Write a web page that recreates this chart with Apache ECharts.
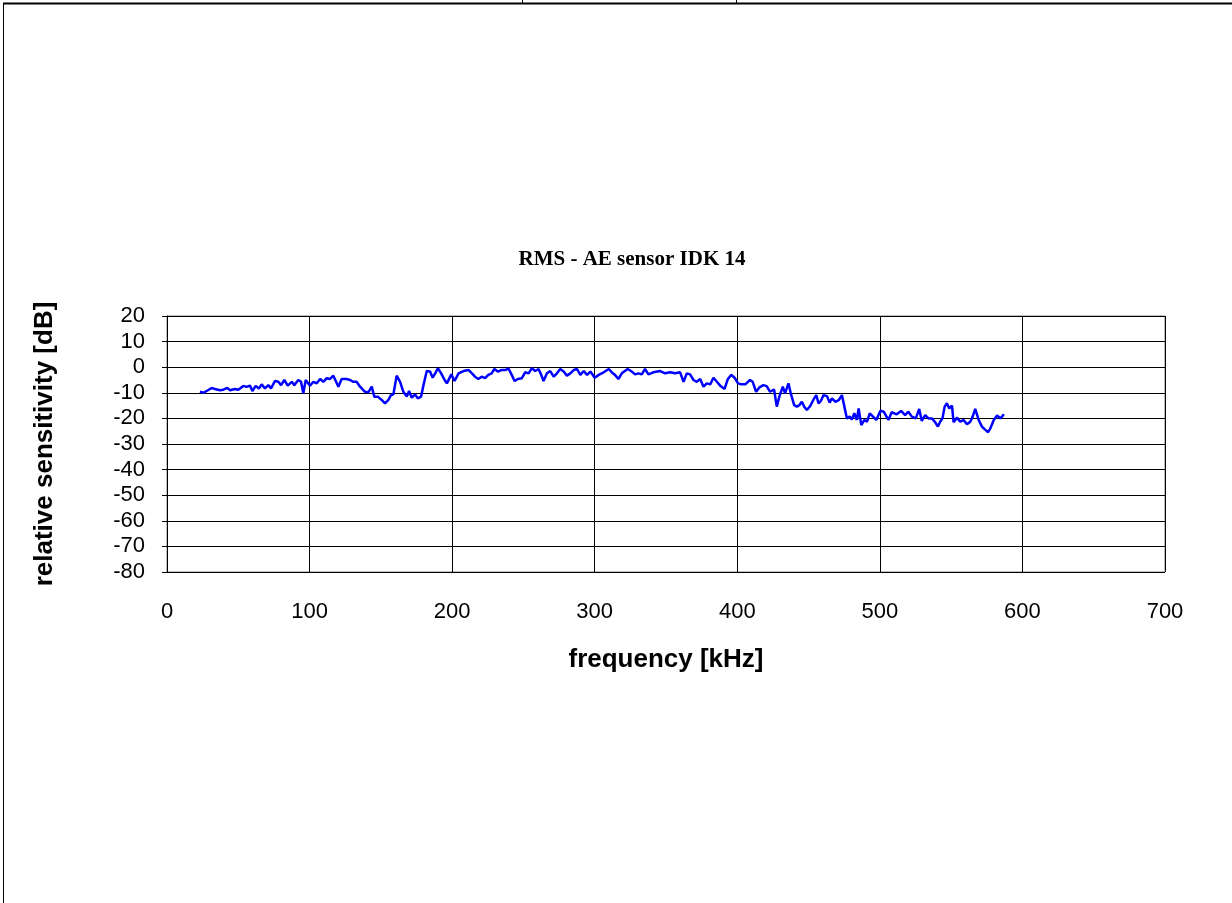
<!DOCTYPE html>
<html>
<head>
<meta charset="utf-8">
<style>
  html, body { margin: 0; padding: 0; background: #fff; }
  #chart { width: 1232px; height: 903px; }
</style>
<script src="https://cdn.jsdelivr.net/npm/echarts@6/dist/echarts.min.js"></script>
</head>
<body>
<div id="chart"></div>
<script>
// frequency [kHz] and relative sensitivity [dB]
const freqKHz = [
  23.1, 25.5, 29, 31.3, 33.7, 37.1, 39.5, 42.3, 44.2, 47.7, 50, 53.5, 55.9, 58.2, 59.9, 62.2, 64.5, 66.4, 68.7, 71.1,
  73, 75.7, 78.1, 80, 82.3, 84.7, 87.5, 89.3, 92.1, 94, 95.6, 97.3, 100.3, 102.7, 105, 107.4, 109.7, 112, 114.4, 116.7,
  117.8, 120.2, 122.5, 126, 128.4, 130.7, 133, 135.4, 138.9, 141.2, 143.6, 145.4, 147.8, 150.6, 152.9, 155.3, 157.1, 158.8,
  161.1, 163.5, 165.8, 168.2, 169.8, 171.7, 174, 175.9, 178.2, 179.9, 182.2, 184.5, 186.3, 188.1, 190, 192.3, 194.7, 196.3,
  199.4, 201.7, 204.5, 208, 211.5, 213.9,
  216, 218.4, 220.7, 223.1, 225.4, 227.7, 229.6, 232, 234.7, 237.6, 239.4, 241.8, 243.8, 246.1, 248.9, 251.2, 253.6, 255.9,
  258.3, 260.6, 262.5, 264.1, 266.5, 268.8, 271.2, 273.5, 275.8, 278.2, 280.5, 282.9, 285.2, 287.6, 289.9, 292.3, 294.6, 297,
  300, 302.8, 306.3, 309.9, 312.7,
  314.2, 316.6, 319, 323.1, 326, 328.3, 330.7, 333, 335.3, 337.7, 341.1, 345.9, 349.4, 352.9, 356.4, 359.9, 362.3, 364.6,
  366.9, 369.3, 371.6, 374, 376.3, 378.6, 381, 383.3, 385.7, 388, 391.1, 393.4, 395.8, 398.1, 400.5, 402.8, 405.6,
  408.9, 410.8, 413.2, 415.5, 418.3, 420.6, 423, 425.8, 427.7, 429.5, 431.9, 433.5, 435.9, 437.5, 439.9, 441.8, 443.6, 445.3,
  446.9, 448.8, 451.1, 453.5, 455.4, 457, 458.7, 460.5, 462.9, 464.8, 466.4, 468.8, 471.1, 473.4, 475.1, 476.9, 478.8, 480.4,
  482.1, 483.9, 485.1, 487, 489.1, 491, 492.9, 495.2, 497.5, 500.4, 502.7,
  506, 508.3, 511.8, 514.9, 517.7, 520, 522.4, 525.2, 527.6, 529.4, 531.8, 534.1, 536.5, 538.8, 540.7, 542.3, 543.9, 545.4,
  547, 548.7, 550.6, 551.7, 554.1, 556.4, 558.7, 561.1, 563.4, 565.1, 566.9, 569.3, 571.6, 574, 575.9, 577.5, 579.9, 582.2,
  584.6, 587
]
const sensDb = [
  -9.6, -10.0, -8.9, -8.1, -8.5, -9.0, -8.8, -8.1, -9.0, -8.5, -8.8, -7.3, -7.7, -7.2, -9.3, -7.3, -8.3, -6.7, -8.3, -7.0,
  -8.3, -5.4, -5.7, -7.0, -5.0, -7.2, -5.7, -7.0, -5.0, -5.7, -10.2, -5.0, -7.2, -5.7, -6.3, -4.6, -5.7, -4.3, -4.6, -3.3,
  -3.0, -7.6, -4.6, -4.6, -5.0, -5.7, -5.7, -7.6, -9.6, -9.8, -7.6, -11.5, -11.5, -12.8, -14.1, -12.8, -10.9, -10.6,
  -3.3, -5.7, -9.6, -11.5, -9.3, -11.9, -10.6, -12.2, -11.5, -7.0, -1.5, -1.7, -4.1, -2.4, -0.4, -2.4, -5.0, -6.3,
  -2.8, -5.4, -2.4, -1.5, -1.1, -2.4,
  -3.7, -4.6, -3.7, -4.3, -3.0, -2.4, -0.7, -1.7, -1.1, -1.1, -0.4, -3.0, -5.4, -4.6, -4.3, -2.0, -2.4, -0.4,
  -1.5, -0.7, -3.0, -5.4, -2.4, -1.5, -3.7, -2.4, -0.7, -1.7, -3.3, -2.4, -1.1, -0.7, -3.0, -1.5, -3.0, -1.7,
  -4.1, -3.0, -2.0, -0.7, -2.4,
  -3.0, -4.6, -2.4, -0.7, -1.7, -2.8, -2.4, -2.8, -0.7, -2.8, -2.0, -1.5, -2.4, -2.0, -2.4, -2.0, -5.7, -2.4,
  -2.8, -5.0, -5.7, -4.6, -7.6, -6.3, -6.7, -4.1, -5.7, -7.2, -8.5, -4.6, -3.0, -4.1, -6.3, -6.7, -6.7,
  -5.0, -5.7, -9.6, -7.9, -7.0, -7.4, -9.6, -8.7, -15.4, -11.5, -7.6, -10.2, -6.3, -10.2, -14.8, -15.4, -14.8, -13.5,
  -15.4, -16.7, -15.2, -12.6, -10.9, -14.1, -13.1, -10.9, -11.3, -13.8, -12.2, -13.5, -12.9, -10.9, -15.4, -20.0, -19.3, -20.4,
  -18.0, -20.6, -16.1, -22.6, -20.6, -21.3, -18.0, -19.3, -20.6, -17.0, -17.4,
  -20.6, -17.6, -18.4, -17.1, -18.7, -17.4, -19.3, -20.0, -16.3, -21.0, -18.7, -20.0, -20.0, -21.5, -23.2, -21.3, -20.0, -15.5,
  -14.1, -16.1, -15.0, -21.5, -19.7, -21.3, -20.6, -22.3, -21.3, -19.3, -16.3, -20.6, -23.2, -24.5, -25.4, -23.9, -20.6, -18.9,
  -20.0, -18.4
]

const chart = echarts.init(document.getElementById('chart'))

const fontSans = '"Liberation Sans", Arial, sans-serif'

chart.setOption({
  animation: false,
  backgroundColor: '#fff',
  title: {
    text: 'RMS - AE sensor IDK 14',
    left: 627,
    top: 244,
    textAlign: 'center',
    textStyle: { fontFamily: '"Liberation Serif", "Times New Roman", serif', fontWeight: 'bold', fontSize: 21, color: '#000' }
  },
  grid: {
    left: 167, right: 67, top: 316, bottom: 331,
    show: true, borderColor: '#808080', borderWidth: 1, backgroundColor: '#fff'
  },
  xAxis: {
    type: 'value',
    min: 0, max: 700, interval: 100,
    name: 'frequency [kHz]',
    nameLocation: 'middle',
    nameGap: 75,
    nameTextStyle: { fontFamily: fontSans, fontWeight: 'bold', fontSize: 26, color: '#000' },
    axisLine: { lineStyle: { color: '#000', width: 1 } },
    axisTick: { show: true, inside: false, length: 5, lineStyle: { color: '#000' } },
    axisLabel: { fontFamily: fontSans, fontSize: 22, color: '#000', margin: 29 },
    splitLine: { show: true, lineStyle: { color: '#000', width: 1 } }
  },
  yAxis: {
    type: 'value',
    min: -80, max: 20, interval: 10,
    name: 'relative sensitivity [dB]',
    nameLocation: 'middle',
    nameGap: 109,
    nameTextStyle: { fontFamily: fontSans, fontWeight: 'bold', fontSize: 26, color: '#000' },
    axisLine: { show: true, lineStyle: { color: '#000', width: 1 } },
    axisTick: { show: true, inside: false, length: 5, lineStyle: { color: '#000' } },
    axisLabel: { fontFamily: fontSans, fontSize: 22, color: '#000', margin: 22 },
    splitLine: { show: true, lineStyle: { color: '#000', width: 1 } }
  },
  series: [{
    type: 'line',
    data: freqKHz.map((f, i) => [f, sensDb[i]]),
    showSymbol: false,
    lineStyle: { color: '#0000ff', width: 2.5 },
    itemStyle: { color: '#0000ff' }
  }],
  graphic: [
    // page frame around the chart
    { type: 'line', shape: { x1: 3, y1: 3.5, x2: 1232, y2: 3.5 }, style: { stroke: '#000', lineWidth: 2 } },
    { type: 'line', shape: { x1: 3.5, y1: 3, x2: 3.5, y2: 903 }, style: { stroke: '#000', lineWidth: 1 } },
    { type: 'line', shape: { x1: 522.5, y1: 0, x2: 522.5, y2: 3 }, style: { stroke: '#000', lineWidth: 1 } },
    { type: 'line', shape: { x1: 736.5, y1: 0, x2: 736.5, y2: 3 }, style: { stroke: '#000', lineWidth: 1 } }
  ]
})
</script>
</body>
</html>
